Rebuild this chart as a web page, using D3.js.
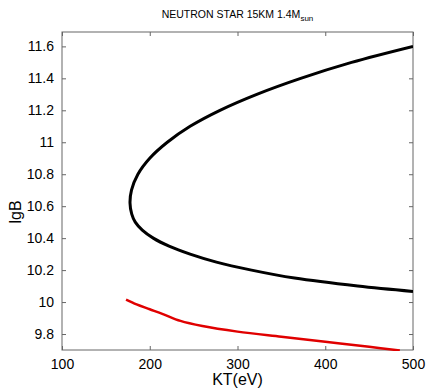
<!DOCTYPE html>
<html>
<head>
<meta charset="utf-8">
<script src="https://cdn.jsdelivr.net/npm/d3@7"></script>
<style>
  body { margin: 0; background: #fff; }
  text { font-family: "Liberation Sans", Arial, sans-serif; }
</style>
</head>
<body>
<div id="chart"></div>
<script>
// values
var xTicks = [100, 200, 300, 400, 500];
var yTicks = [9.8, 10, 10.2, 10.4, 10.6, 10.8, 11, 11.2, 11.4, 11.6];

// black curve, KT (eV) / lgB, from upper right round the nose to lower right
var blackKT = [500, 430, 372, 322, 280, 246, 220, 200, 186.5, 179.2, 177.5, 179.5, 183.5, 191.5, 204, 222, 246, 276, 316, 365, 437, 500];
var blackB  = [11.6, 11.5, 11.4, 11.3, 11.2, 11.1, 11.0, 10.9, 10.8, 10.7, 10.62, 10.55, 10.5, 10.45, 10.4, 10.35, 10.3, 10.25, 10.2, 10.15, 10.1, 10.066];

// red curve
var redKT = [173, 185, 200, 215, 235, 260, 300, 350, 400, 450, 485];
var redB  = [10.015, 9.985, 9.955, 9.925, 9.882, 9.85, 9.815, 9.783, 9.752, 9.72, 9.697];

var W = 427, H = 389;
var margin = {top: 32, right: 14, bottom: 39, left: 62},
    width = W - margin.left - margin.right,
    height = H - margin.top - margin.bottom;

var svg = d3.select("#chart").append("svg")
    .attr("width", W)
    .attr("height", H);

var g = svg.append("g").attr("transform", "translate(" + margin.left + "," + margin.top + ")");

var x = d3.scaleLinear().domain([100, 500]).range([0, width]);
var y = d3.scaleLinear().domain([9.7, 11.69]).range([height, 0]);

var axisColor = "#666";

// box + ticks (inside, on all four sides)
function styleAxis(sel) {
    sel.select(".domain").remove();
    sel.selectAll(".tick line").attr("stroke", axisColor);
    sel.selectAll(".tick text")
        .attr("fill", "#000")
        .style("font-size", "14px");
}

g.append("g")
    .attr("transform", "translate(0," + height + ")")
    .call(d3.axisBottom(x).tickValues(xTicks).tickSizeInner(-4).tickSizeOuter(0).tickPadding(9).tickFormat(d3.format("d")))
    .call(styleAxis);

g.append("g")
    .call(d3.axisTop(x).tickValues(xTicks).tickSizeInner(-4).tickSizeOuter(0).tickFormat(""))
    .call(styleAxis);

g.append("g")
    .call(d3.axisLeft(y).tickValues(yTicks).tickSizeInner(-4).tickSizeOuter(0).tickPadding(8).tickFormat(function(d) { return d3.format("")(+d.toFixed(1)); }))
    .call(styleAxis);

g.append("g")
    .attr("transform", "translate(" + width + ",0)")
    .call(d3.axisRight(y).tickValues(yTicks).tickSizeInner(-4).tickSizeOuter(0).tickFormat(""))
    .call(styleAxis);

g.append("rect")
    .attr("width", width)
    .attr("height", height)
    .attr("fill", "none")
    .attr("stroke", axisColor)
    .attr("stroke-width", 1);

// curves
var line = d3.line()
    .x(function(d) { return x(d[0]); })
    .y(function(d) { return y(d[1]); })
    .curve(d3.curveCatmullRom.alpha(0.5));

var blackData = blackKT.map(function(k, i) { return [k, blackB[i]]; });
var redData = redKT.map(function(k, i) { return [k, redB[i]]; });

g.append("clipPath").attr("id", "clip")
    .append("rect").attr("width", width).attr("height", height + 2).attr("y", -1);

g.append("path")
    .datum(blackData)
    .attr("d", line)
    .attr("fill", "none")
    .attr("stroke", "#000")
    .attr("stroke-width", 3)
    .attr("clip-path", "url(#clip)");

g.append("path")
    .datum(redData)
    .attr("d", line)
    .attr("fill", "none")
    .attr("stroke", "#e00000")
    .attr("stroke-width", 2.5)
    .attr("clip-path", "url(#clip)");

// labels
svg.append("text")
    .attr("x", margin.left + width / 2)
    .attr("y", 385)
    .attr("text-anchor", "middle")
    .style("font-size", "16px")
    .text("KT(eV)");

svg.append("text")
    .attr("transform", "translate(21,212) rotate(-90)")
    .attr("text-anchor", "middle")
    .style("font-size", "16px")
    .text("lgB");

var title = svg.append("text")
    .attr("x", margin.left + width / 2)
    .attr("y", 18)
    .attr("text-anchor", "middle")
    .style("font-size", "10.5px");
title.append("tspan").text("NEUTRON STAR 15KM 1.4M");
title.append("tspan").attr("dy", 3).style("font-size", "8px").text("sun");
</script>
</body>
</html>
